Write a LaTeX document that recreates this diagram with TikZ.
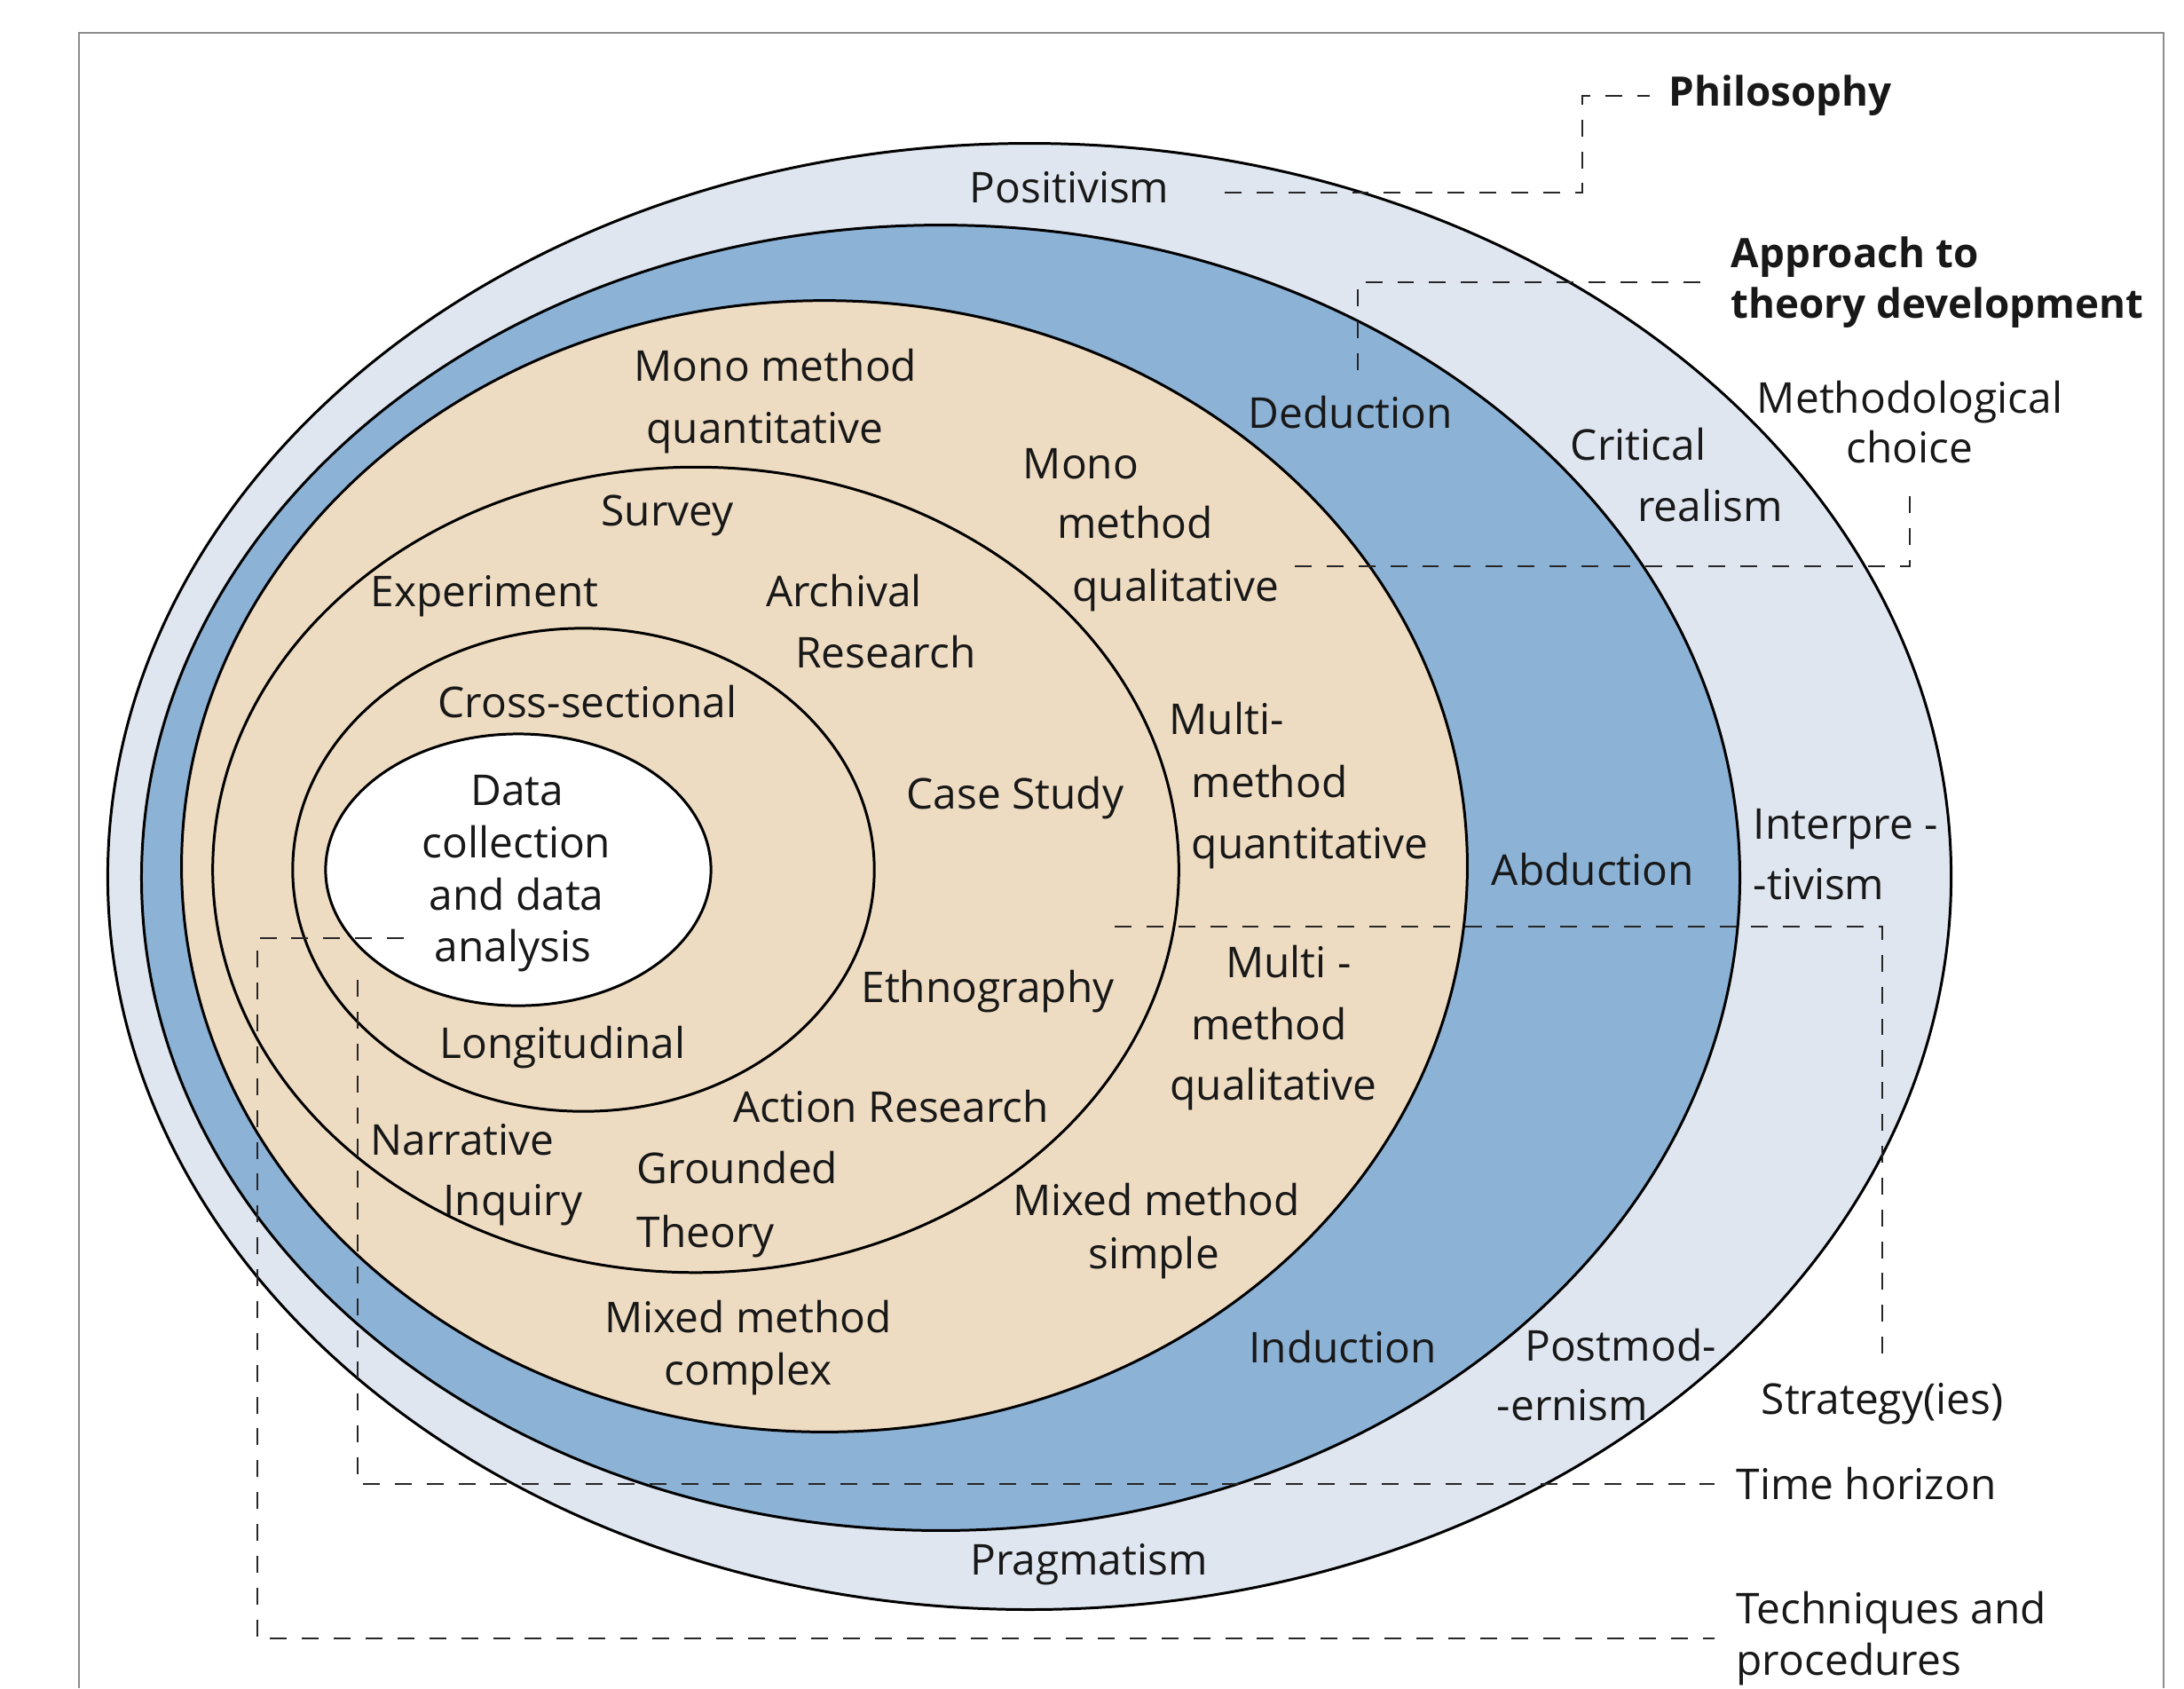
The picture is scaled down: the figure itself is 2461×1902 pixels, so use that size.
\documentclass[tikz,border=0pt]{standalone}
\usepackage{fontspec}
\setmainfont{Open Sans}
\definecolor{outerband}{HTML}{DFE6F0}
\definecolor{blueband}{HTML}{8CB2D6}
\definecolor{tanband}{HTML}{EEDCC2}
\definecolor{framegray}{HTML}{8C8C8C}
\definecolor{txt}{HTML}{181818}
\begin{document}
\begin{tikzpicture}[x=0.01cm,y=-0.01cm,
  ring/.style={draw=black,line width=0.85pt},
  conn/.style={draw=black!85,line width=0.8pt,dash pattern=on 5.4pt off 4.8pt},
  lbl/.style={font=\fontsize{13.6}{16.5}\selectfont,text=txt,inner sep=0pt,anchor=base},
  boldlbl/.style={font=\fontsize{13}{16.2}\selectfont\bfseries,text=txt,inner ysep=0pt}]
\useasboundingbox (0,0) rectangle (2461,1902);
\fill[white] (0,0) rectangle (2461,1902);
\draw[framegray,line width=0.7pt] (89,1902) -- (89,37) -- (2438,37) -- (2438,1902);
% rings
\filldraw[ring,fill=outerband] (1160,987.5) ellipse [x radius=10.38cm, y radius=8.255cm];
\filldraw[ring,fill=blueband] (1060,989) ellipse [x radius=9.00cm, y radius=7.35cm];
\filldraw[ring,fill=tanband] (929,976) ellipse [x radius=7.24cm, y radius=6.37cm];
\draw[ring] (784,980) ellipse [x radius=5.44cm, y radius=4.535cm];
\draw[ring] (657.5,980) ellipse [x radius=3.275cm, y radius=2.72cm];
\filldraw[ring,fill=white] (584,980) ellipse [x radius=2.17cm, y radius=1.53cm];
% ring labels
\node[lbl] (positivism) at (1205,228) {Positivism};
\node[lbl] (pragmatism) at (1227,1774) {Pragmatism};
\node[lbl] (critical) at (1846,518) {Critical};
\node[lbl] (realism) at (1927,587) {realism};
\node[lbl,anchor=base west] (interp1) at (1975,945) {Interpre -};
\node[lbl,anchor=base west] (interp2) at (1975,1013) {-tivism};
\node[lbl] (postmod1) at (1826,1533) {Postmod-};
\node[lbl] (postmod2) at (1772,1600) {-ernism};
\node[lbl] (deduction) at (1522,482) {Deduction};
\node[lbl] (abduction) at (1795,997) {Abduction};
\node[lbl] (induction) at (1513,1535) {Induction};
\node[lbl] (monoquant1) at (874,429) {Mono method};
\node[lbl] (monoquant2) at (862,499) {quantitative};
\node[lbl] (monoqual1) at (1218,539) {Mono};
\node[lbl] (monoqual2) at (1279,606) {method};
\node[lbl] (monoqual3) at (1325,677) {qualitative};
\node[lbl,anchor=base west] (multiquant1) at (1317,827) {Multi-};
\node[lbl,anchor=base west] (multiquant2) at (1342,898) {method};
\node[lbl,anchor=base west] (multiquant3) at (1342,967) {quantitative};
\node[lbl] (multiqual1) at (1452,1101) {Multi -};
\node[lbl] (multiqual2) at (1430,1171) {method};
\node[lbl] (multiqual3) at (1435,1239) {qualitative};
\node[lbl] (mixsimple1) at (1303,1369) {Mixed method};
\node[lbl] (mixsimple2) at (1300,1429) {simple};
\node[lbl] (mixcomplex1) at (843,1501) {Mixed method};
\node[lbl] (mixcomplex2) at (843,1560) {complex};
\node[lbl] (survey) at (752,592) {Survey};
\node[lbl] (experiment) at (546,683) {Experiment};
\node[lbl] (archival1) at (951,683) {Archival};
\node[lbl] (archival2) at (998,752) {Research};
\node[lbl] (casestudy) at (1144,911) {Case Study};
\node[lbl] (ethnography) at (1113,1129) {Ethnography};
\node[lbl] (actionres) at (1004,1264) {Action Research};
\node[lbl] (narrative1) at (521,1301) {Narrative};
\node[lbl] (narrative2) at (578,1369) {Inquiry};
\node[lbl,anchor=base west] (grounded1) at (717,1333) {Grounded};
\node[lbl,anchor=base west] (grounded2) at (717,1405) {Theory};
\node[lbl] (crosssec) at (662,808) {Cross-sectional};
\node[lbl] (longit) at (634,1192) {Longitudinal};
\node[lbl] (core1) at (583,907) {Data};
\node[lbl] (core2) at (582,966) {collection};
\node[lbl] (core3) at (582,1025) {and data};
\node[lbl] (core4) at (578,1083) {analysis};
% side labels
\node[boldlbl,anchor=west,inner xsep=6pt] (philo) at (1859,108) {Philosophy};
\node[boldlbl,anchor=west,inner xsep=6.8pt,align=left] (approach) at (1926,318) {Approach to\\theory development};
\node[lbl] (meth1) at (2152,465) {Methodological};
\node[lbl,inner ysep=8pt] (meth2) at (2152,521) {choice};
\node[lbl,inner ysep=6.8pt] (strat) at (2121,1593) {Strategy(ies)};
\node[lbl,anchor=west,inner xsep=6.8pt] (timeh) at (1932,1672) {Time horizon};
\node[lbl,anchor=west,inner xsep=6.8pt,align=left,font=\fontsize{13.6}{16.5}\selectfont] (tech) at (1932,1846) {Techniques and\\procedures};
% connector free ends
\coordinate (p1) at (1380,217);
\coordinate (p2) at (1783,217);
\coordinate (a1) at (1530,417);
\coordinate (m1) at (1459,638);
\coordinate (s1) at (1256,1044);
\coordinate (t1) at (403,1104);
\coordinate (q1) at (455,1057);
\coordinate (q2) at (290,1057);
\draw[conn] (p1) -- (p2) |- (philo.west);
\draw[conn] (a1) |- (approach.west);
\draw[conn] (m1) -| (meth2.south);
\draw[conn] (s1) -| (strat.north);
\draw[conn] (t1) |- (timeh.west);
\draw[conn] (q1) -- (q2) |- (tech.west);
\end{tikzpicture}
\end{document}
